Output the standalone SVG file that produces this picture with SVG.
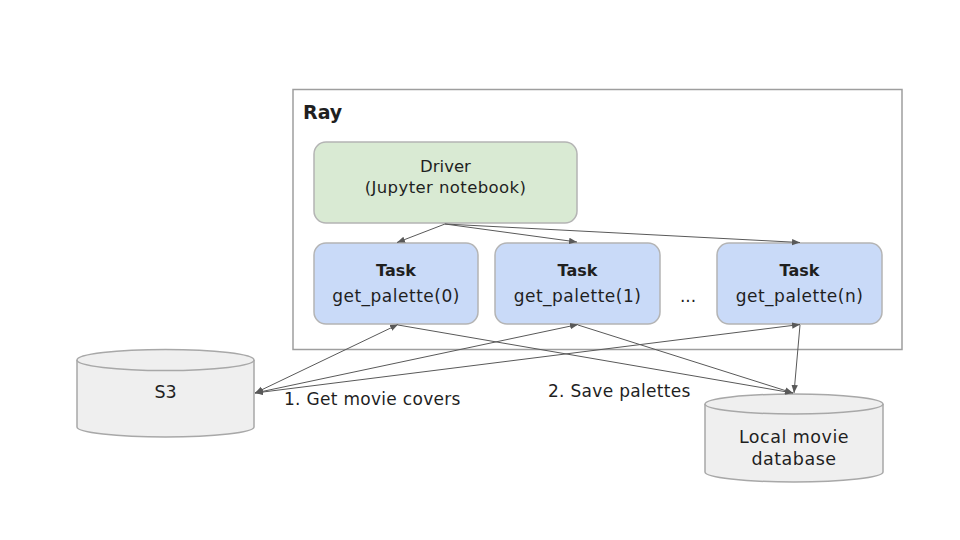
<svg xmlns="http://www.w3.org/2000/svg" width="960" height="540" viewBox="0 0 960 540">
<defs>
<style>
text{font-family:"DejaVu Sans","Open Sans",sans-serif;fill:#1f1f1f;}
.node{stroke:#b4b4b4;stroke-width:1.5;}
.task{fill:#c9daf8;}
.drv{fill:#d9ead3;}
.cyl{fill:#efefef;stroke:#a8a8a8;stroke-width:1.5;}
.c{text-anchor:middle;}
.edge{stroke:#595959;stroke-width:1;fill:none;marker-end:url(#ah);}
.both{marker-start:url(#ahs);}
</style>
<marker id="ah" viewBox="0 0 10 10" refX="10" refY="5" markerWidth="8" markerHeight="8" markerUnits="userSpaceOnUse" orient="auto">
<path d="M0,1 L10,5 L0,9 Z" fill="#595959"/>
</marker>
<marker id="ahs" viewBox="0 0 10 10" refX="0" refY="5" markerWidth="8" markerHeight="8" markerUnits="userSpaceOnUse" orient="auto">
<path d="M10,1 L0,5 L10,9 Z" fill="#595959"/>
</marker>
</defs>
<rect width="960" height="540" fill="#ffffff"/>
<g id="ray">
<rect x="293" y="89.5" width="609" height="260" fill="none" stroke="#9e9e9e" stroke-width="1.5"/>
<text x="303" y="119" font-size="19" font-weight="bold">Ray</text>
</g>
<g id="driver">
<rect class="node drv" x="314" y="142" width="263" height="81" rx="12"/>
<text class="c" x="445.5" y="172" font-size="16.5">Driver</text>
<text class="c" x="445.5" y="193" font-size="16.5" letter-spacing="0.4">(Jupyter notebook)</text>
</g>
<g id="task0">
<rect class="node task" x="314" y="243" width="164" height="81" rx="12"/>
<text class="c" x="396" y="276" font-size="16" font-weight="bold">Task</text>
<text class="c" x="396" y="302" font-size="17" letter-spacing="0.5">get_palette(0)</text>
</g>
<g id="task1">
<rect class="node task" x="495" y="243" width="165" height="81" rx="12"/>
<text class="c" x="577.5" y="276" font-size="16" font-weight="bold">Task</text>
<text class="c" x="577.5" y="302" font-size="17" letter-spacing="0.5">get_palette(1)</text>
</g>
<text x="688" y="302" font-size="17" class="c">...</text>
<g id="taskn">
<rect class="node task" x="717" y="243" width="165" height="81" rx="12"/>
<text class="c" x="799.5" y="276" font-size="16" font-weight="bold">Task</text>
<text class="c" x="799.5" y="302" font-size="17" letter-spacing="0.5">get_palette(n)</text>
</g>
<g id="s3">
<path class="cyl" d="M77,360 L77,427 A88.5,10 0 0 0 254,427 L254,360"/>
<ellipse class="cyl" cx="165.5" cy="360" rx="88.5" ry="10.5"/>
<text class="c" x="165.5" y="398" font-size="17.5">S3</text>
</g>
<g id="db">
<path class="cyl" d="M705,404 L705,472 A89,10 0 0 0 883,472 L883,404"/>
<ellipse class="cyl" cx="794" cy="404" rx="89" ry="10"/>
<text class="c" x="794" y="443" font-size="17.5" letter-spacing="0.5">Local movie</text>
<text class="c" x="794" y="465" font-size="17.5" letter-spacing="0.5">database</text>
</g>
<g id="connectors">
<line class="edge" x1="445" y1="224" x2="397" y2="242.5"/>
<line class="edge" x1="445" y1="224" x2="577" y2="242"/>
<line class="edge" x1="445" y1="224" x2="800" y2="242.5"/>
<line class="edge both" x1="255" y1="393" x2="398" y2="324.5"/>
<line class="edge both" x1="255" y1="393" x2="578" y2="324.5"/>
<line class="edge both" x1="255" y1="393" x2="800" y2="324.5"/>
<line class="edge" x1="398" y1="325" x2="793" y2="393"/>
<line class="edge" x1="578" y1="325" x2="793" y2="393"/>
<line class="edge" x1="800" y1="325" x2="794" y2="393"/>
<text x="284" y="405" font-size="17" letter-spacing="0.3">1. Get movie covers</text>
<text x="548" y="397" font-size="17" letter-spacing="0.3">2. Save palettes</text>
</g>
</svg>
